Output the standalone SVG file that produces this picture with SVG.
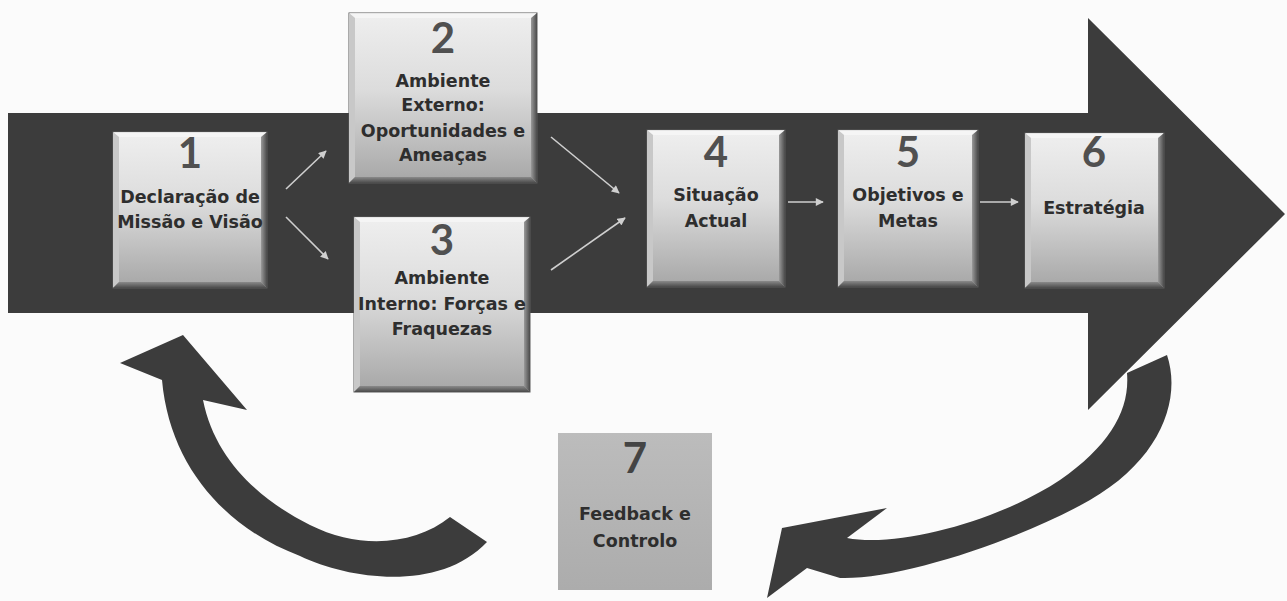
<svg xmlns="http://www.w3.org/2000/svg" width="1287" height="601" viewBox="0 0 1287 601">
  <defs>
    <linearGradient id="boxFill" x1="0" y1="0" x2="0" y2="1">
      <stop offset="0" stop-color="#efefef"/>
      <stop offset="0.45" stop-color="#dcdcdc"/>
      <stop offset="1" stop-color="#a6a6a6"/>
    </linearGradient>
    <linearGradient id="edgeRight" x1="0" y1="0" x2="1" y2="0">
      <stop offset="0" stop-color="#9a9a9a"/>
      <stop offset="1" stop-color="#4a4a4a"/>
    </linearGradient>
    <linearGradient id="edgeBottom" x1="0" y1="0" x2="0" y2="1">
      <stop offset="0" stop-color="#8a8a8a"/>
      <stop offset="1" stop-color="#4a4a4a"/>
    </linearGradient>
    <linearGradient id="flatFill" x1="0" y1="0" x2="0" y2="1">
      <stop offset="0" stop-color="#bcbcbc"/>
      <stop offset="1" stop-color="#acacac"/>
    </linearGradient>
    <marker id="tip" viewBox="0 0 10 10" refX="9" refY="5" markerWidth="9" markerHeight="8" markerUnits="userSpaceOnUse" orient="auto">
      <path d="M0,0 L10,5 L0,10 Z" fill="#cfcfcf"/>
    </marker>
    <style>
      .shape { fill: #3c3c3c; }
      .box { fill: url(#boxFill); stroke: #5a5a5a; stroke-width: 1; }
      .er { fill: url(#edgeRight); }
      .eb { fill: url(#edgeBottom); }
      .et { fill: #f6f6f6; opacity: 0.8; }
      .el { fill: #c8c8c8; }
      .flat { fill: url(#flatFill); }
      .num { font-family: Lato, "Liberation Sans", sans-serif; font-weight: bold; font-size: 42px; fill: #505050; text-anchor: middle; }
      .lbl { font-family: "DejaVu Sans", "Liberation Sans", sans-serif; font-weight: bold; font-size: 17.5px; fill: #2e2e2e; text-anchor: middle; }
      .link { stroke: #cfcfcf; stroke-width: 1.6; fill: none; marker-end: url(#tip); }
    </style>
  </defs>

  <rect width="1287" height="601" fill="#fbfbfb"/>

  <!-- main process arrow -->
  <g id="process-arrow">
    <path class="shape" d="M8,113 L1088,113 L1088,18 L1285,214 L1088,410 L1088,313 L8,313 Z"/>
  </g>

  <!-- feedback loop arrows -->
  <g id="loop-arrows">
    <path class="shape" d="M450,517 C415,545 360,550 310,525 C260,500 215,460 203,400 L247,410 L183,335 L120,363 L162,380 C170,470 230,530 300,556 C350,580 440,592 487,542 Z"/>
    <path class="shape" d="M1127,373 L1167,355 C1182,400 1160,460 1090,500 C1020,540 900,580 840,578 L807,568 L767,598 L782,528 L887,508 L847,538 C900,548 1000,520 1060,480 C1110,445 1130,410 1127,373 Z"/>
  </g>

  <!-- connectors between steps -->
  <g id="connectors">
    <line class="link" x1="286" y1="189" x2="326" y2="151"/>
    <line class="link" x1="286" y1="217" x2="328" y2="259"/>
    <line class="link" x1="551" y1="137" x2="619" y2="193"/>
    <line class="link" x1="551" y1="270" x2="625" y2="218"/>
    <line class="link" x1="788" y1="202" x2="823" y2="202"/>
    <line class="link" x1="980" y1="202" x2="1018" y2="202"/>
  </g>

  <!-- step 1 -->
  <g id="node-1">
    <rect class="box" x="113" y="132" width="154" height="156"/>
    <polygon class="et" points="113,132 267,132 261,137 119,137"/>
    <polygon class="el" points="113,132 119,137 119,282 113,288"/>
    <polygon class="er" points="267,132 267,288 261,282 261,137"/>
    <polygon class="eb" points="113,288 267,288 261,282 119,282"/>
    <text class="num" x="190" y="168">1</text>
    <text class="lbl" x="190" y="203">Declaração de</text>
    <text class="lbl" x="190" y="228">Missão e Visão</text>
  </g>

  <!-- step 2 -->
  <g id="node-2">
    <rect class="box" x="349" y="13" width="188" height="170"/>
    <polygon class="et" points="349,13 537,13 531,18 355,18"/>
    <polygon class="el" points="349,13 355,18 355,177 349,183"/>
    <polygon class="er" points="537,13 537,183 531,177 531,18"/>
    <polygon class="eb" points="349,183 537,183 531,177 355,177"/>
    <text class="num" x="443" y="53">2</text>
    <text class="lbl" x="443" y="87">Ambiente</text>
    <text class="lbl" x="443" y="111">Externo:</text>
    <text class="lbl" x="443" y="137">Oportunidades e</text>
    <text class="lbl" x="443" y="161">Ameaças</text>
  </g>

  <!-- step 3 -->
  <g id="node-3">
    <rect class="box" x="354" y="217" width="176" height="175"/>
    <polygon class="et" points="354,217 530,217 524,222 360,222"/>
    <polygon class="el" points="354,217 360,222 360,386 354,392"/>
    <polygon class="er" points="530,217 530,392 524,386 524,222"/>
    <polygon class="eb" points="354,392 530,392 524,386 360,386"/>
    <text class="num" x="442" y="255">3</text>
    <text class="lbl" x="442" y="284">Ambiente</text>
    <text class="lbl" x="442" y="310">Interno: Forças e</text>
    <text class="lbl" x="442" y="335">Fraquezas</text>
  </g>

  <!-- step 4 -->
  <g id="node-4">
    <rect class="box" x="647" y="130" width="138" height="157"/>
    <polygon class="et" points="647,130 785,130 779,135 653,135"/>
    <polygon class="el" points="647,130 653,135 653,281 647,287"/>
    <polygon class="er" points="785,130 785,287 779,281 779,135"/>
    <polygon class="eb" points="647,287 785,287 779,281 653,281"/>
    <text class="num" x="716" y="167">4</text>
    <text class="lbl" x="716" y="201">Situação</text>
    <text class="lbl" x="716" y="227">Actual</text>
  </g>

  <!-- step 5 -->
  <g id="node-5">
    <rect class="box" x="838" y="130" width="140" height="157"/>
    <polygon class="et" points="838,130 978,130 972,135 844,135"/>
    <polygon class="el" points="838,130 844,135 844,281 838,287"/>
    <polygon class="er" points="978,130 978,287 972,281 972,135"/>
    <polygon class="eb" points="838,287 978,287 972,281 844,281"/>
    <text class="num" x="908" y="167">5</text>
    <text class="lbl" x="908" y="201">Objetivos e</text>
    <text class="lbl" x="908" y="227">Metas</text>
  </g>

  <!-- step 6 -->
  <g id="node-6">
    <rect class="box" x="1025" y="133" width="139" height="155"/>
    <polygon class="et" points="1025,133 1164,133 1158,138 1031,138"/>
    <polygon class="el" points="1025,133 1031,138 1031,282 1025,288"/>
    <polygon class="er" points="1164,133 1164,288 1158,282 1158,138"/>
    <polygon class="eb" points="1025,288 1164,288 1158,282 1031,282"/>
    <text class="num" x="1094" y="167">6</text>
    <text class="lbl" x="1094" y="214">Estratégia</text>
  </g>

  <!-- step 7 -->
  <g id="node-7">
    <rect class="flat" x="558" y="433" width="154" height="157"/>
    <text class="num" x="635" y="473" style="fill:#444">7</text>
    <text class="lbl" x="635" y="520">Feedback e</text>
    <text class="lbl" x="635" y="547">Controlo</text>
  </g>
</svg>
